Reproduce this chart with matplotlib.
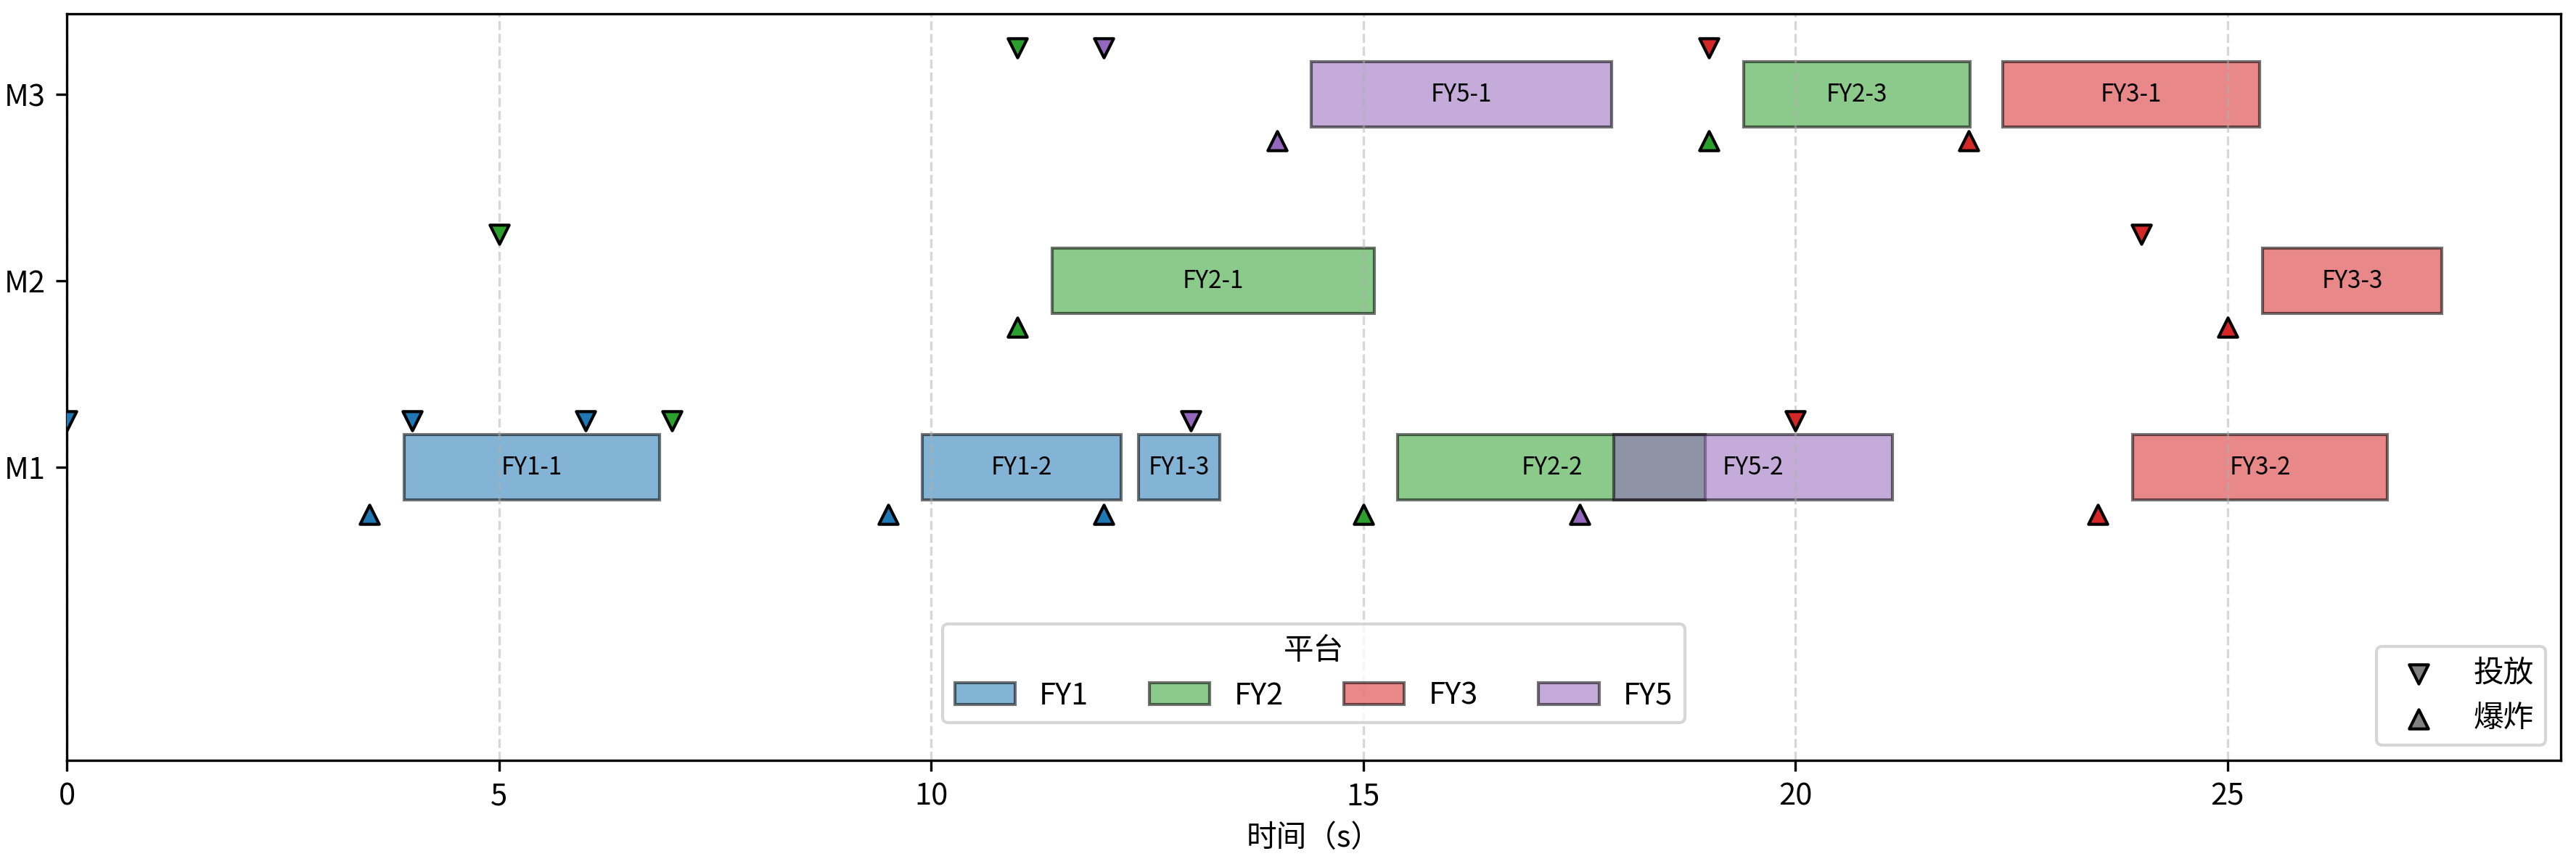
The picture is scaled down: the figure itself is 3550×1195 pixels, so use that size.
import numpy as np
import matplotlib.pyplot as plt
from matplotlib.patches import Patch

plt.rcParams['font.family'] = ['Noto Sans CJK SC', 'DejaVu Sans']
plt.rcParams['axes.unicode_minus'] = False

# smoke units: name, platform, missile, drop / burst time, effective cover interval
names = ['FY1-1', 'FY1-2', 'FY1-3', 'FY2-1', 'FY2-2', 'FY2-3',
         'FY3-1', 'FY3-2', 'FY3-3', 'FY5-1', 'FY5-2']
platforms = ['FY1', 'FY1', 'FY1', 'FY2', 'FY2', 'FY2',
             'FY3', 'FY3', 'FY3', 'FY5', 'FY5']
missiles = ['M1', 'M1', 'M1', 'M2', 'M1', 'M3',
            'M3', 'M1', 'M2', 'M3', 'M1']
drop_t = [0.0, 4.0, 6.0, 5.0, 7.0, 11.0, 19.0, 20.0, 24.0, 12.0, 13.0]
burst_t = [3.5, 9.5, 12.0, 11.0, 15.0, 19.0, 22.0, 23.5, 25.0, 14.0, 17.5]
cover_start = [3.9, 9.9, 12.4, 11.4, 15.4, 19.4, 22.4, 23.9, 25.4, 14.4, 17.9]
cover_end = [6.86, 12.20, 13.34, 15.13, 18.96, 22.02, 25.37, 26.85, 27.48, 17.87, 21.12]

missile_names = ['M1', 'M2', 'M3']
platform_names = ['FY1', 'FY2', 'FY3', 'FY5']
platform_colors = {'FY1': 'tab:blue', 'FY2': 'tab:green', 'FY3': 'tab:red', 'FY5': 'tab:purple'}

fig = plt.figure(figsize=(3550 / 300, 1195 / 300), dpi=300)
ax = fig.add_axes([0.0259, 0.1230, 0.9682, 0.8607])

ypos = {m: i for i, m in enumerate(missile_names)}
bar_h = 0.35

for n, p, m, d, b, s, e in zip(names, platforms, missiles, drop_t, burst_t, cover_start, cover_end):
    y = ypos[m]
    c = platform_colors[p]
    ax.barh(y, e - s, left=s, height=bar_h, color=c, alpha=0.55,
            edgecolor='black', linewidth=1)
    ax.text((s + e) / 2, y, n, ha='center', va='center', fontsize=8)
    ax.scatter(d, y + 0.25, marker='v', s=40, c=c, edgecolors='black', linewidths=1, zorder=3)
    ax.scatter(b, y - 0.25, marker='^', s=40, c=c, edgecolors='black', linewidths=1, zorder=3)

ax.set_yticks(range(len(missile_names)))
ax.set_yticklabels(missile_names)
ax.set_xlim(0, max(cover_end) * 1.05)
ax.set_ylim(-1.57, 2.43)
ax.set_xlabel('时间（s）', fontsize=10)
ax.tick_params(labelsize=10)
ax.grid(axis='x', linestyle='--', alpha=0.5)

# legends
plat_handles = [Patch(facecolor=platform_colors[p], alpha=0.55, edgecolor='black', label=p)
                for p in platform_names]
leg1 = ax.legend(handles=plat_handles, title='平台', loc='lower center',
                 bbox_to_anchor=(0.5, 0.03), ncol=4, fontsize=10, title_fontsize=10)
ax.add_artist(leg1)

h_drop = ax.scatter([], [], marker='v', s=40, c='gray', edgecolors='black', linewidths=1, label='投放')
h_burst = ax.scatter([], [], marker='^', s=40, c='gray', edgecolors='black', linewidths=1, label='爆炸')
ax.legend(handles=[h_drop, h_burst], loc='lower right', fontsize=10)

fig.savefig('out.png', dpi=300)
